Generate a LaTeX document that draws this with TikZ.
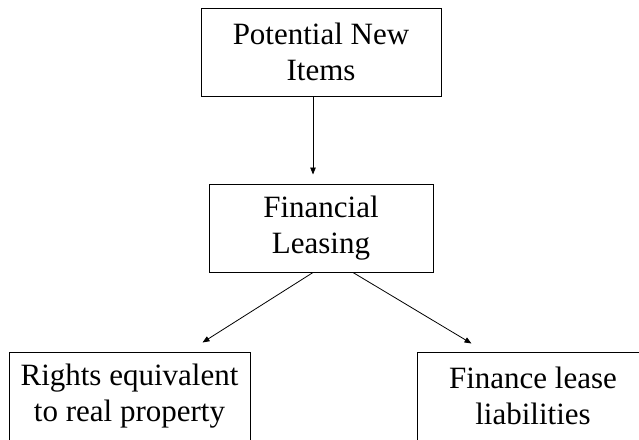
\documentclass[tikz,border=0pt]{standalone}
\usepackage{fontspec}
\setmainfont{Liberation Serif}
\usetikzlibrary{arrows.meta,calc}
\begin{document}
\begin{tikzpicture}[x=1pt,y=-1pt,
  box/.style={draw=black,line width=1pt,rectangle,inner sep=0pt,minimum height=88pt,align=center,
    font=\fontsize{31}{35.5}\selectfont},
  arr/.style={draw=black,line width=0.8pt,-{Triangle[length=7pt,width=5.5pt]}}]
\useasboundingbox (0,0) rectangle (639,439);
\clip (0,0) rectangle (639,439);
\node[box,minimum width=240pt] (b1) at (321,52) {Potential New\\Items};
\node[box,minimum width=224pt] (b2) at (321,228) {Financial\\Leasing};
\node[box,minimum width=241pt] (b3) at (129.5,396) {Rights equivalent\\to real property};
\node[box,minimum width=232pt] (b4) at (533,396) {Finance lease\\liabilities};
\draw[arr] ([xshift=-8pt]b1.south) -- ([xshift=-8pt,yshift=9pt]b2.north);
\draw[arr] ([xshift=-8pt]b2.south) -- ([xshift=-48pt,yshift=9pt]b3.north east);
\draw[arr] ([xshift=32pt]b2.south) -- ([xshift=55pt,yshift=8pt]b4.north west);
\end{tikzpicture}
\end{document}
